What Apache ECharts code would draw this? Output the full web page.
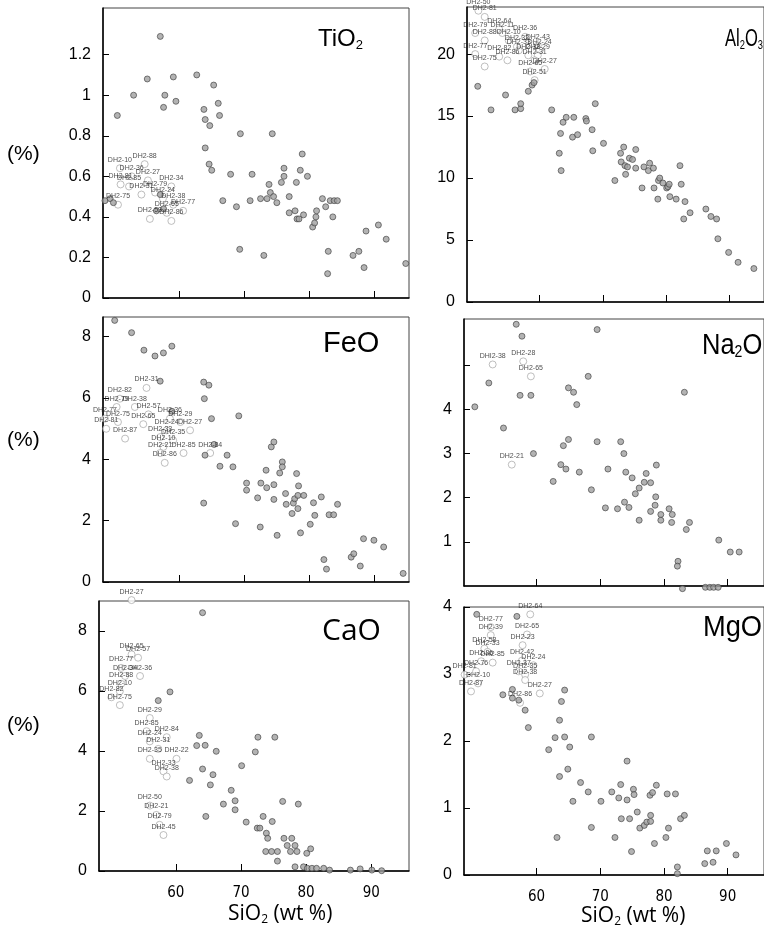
<!DOCTYPE html>
<html>
<head>
<meta charset="utf-8">
<script src="https://cdn.jsdelivr.net/npm/echarts@6/dist/echarts.min.js"></script>
<style>
  html, body { margin: 0; padding: 0; background: #fff; }
  #chart { width: 764px; height: 937px; }
</style>
</head>
<body>
<div id="chart"></div>
<script>
// SiO2 (wt %) on x, oxide (%) on y. filled = plain samples, labeled = named DH2 samples
var xTicks = [60, 70, 80, 90];

var tiTicks = [0, 0.2, 0.4, 0.6, 0.8, 1, 1.2];
var tiFilled = [[57.1,1.29],[50.5,0.90],[53.0,1.00],[55.1,1.08],[59.1,1.09],[57.8,1.00],[57.6,0.94],[59.5,0.97],[62.7,1.10],[65.3,1.05],[63.8,0.93],[64.0,0.88],[64.7,0.85],[66.0,0.96],[66.2,0.90],[64.0,0.74],[64.6,0.66],[65.0,0.63],[69.4,0.81],[67.9,0.61],[66.7,0.48],[68.8,0.45],[69.3,0.24],[71.2,0.61],[70.9,0.48],[73.0,0.21],[74.3,0.81],[72.5,0.49],[73.5,0.49],[73.8,0.56],[74.0,0.52],[74.5,0.50],[75.0,0.47],[75.7,0.57],[76.1,0.64],[76.1,0.60],[76.9,0.50],[76.9,0.42],[77.8,0.43],[78.0,0.57],[78.1,0.39],[78.4,0.39],[78.6,0.63],[78.9,0.71],[79.1,0.41],[79.7,0.60],[80.5,0.35],[80.8,0.37],[81.0,0.40],[81.1,0.43],[82.0,0.49],[82.5,0.45],[82.9,0.23],[82.8,0.12],[83.2,0.48],[83.8,0.48],[84.3,0.48],[83.6,0.40],[86.7,0.21],[87.6,0.23],[88.4,0.15],[88.7,0.33],[90.6,0.36],[91.8,0.29],[94.8,0.17],[48.6,0.48],[49.4,0.49],[49.9,0.47],[57.1,0.51],[56.5,0.43],[57.6,0.44]];
var tiLabeled = [[50.9,0.64,'DH2-10'],[54.7,0.66,'DH2-88'],[51.0,0.56,'DH2-81'],[52.7,0.60,'DH2-36'],[55.2,0.58,'DH2-27'],[52.3,0.55,'DH2-85'],[54.2,0.51,'DH2-31'],[56.3,0.52,'DH2-79'],[58.8,0.55,'DH2-34'],[57.5,0.49,'DH2-24'],[59.1,0.46,'DH2-38'],[60.6,0.43,'DH2-77'],[50.6,0.46,'DH2-75'],[58.1,0.42,'DH2-65'],[55.5,0.39,'DH2-53'],[58.8,0.38,'DH2-86']];

var alTicks = [0, 5, 10, 15, 20];
var alFilled = [[50.2,17.4],[52.3,15.5],[54.6,16.7],[56.1,15.5],[57.0,15.6],[57.0,16.0],[58.2,17.0],[58.8,17.5],[59.1,17.7],[61.9,15.5],[63.1,12.0],[63.3,13.6],[63.4,10.6],[63.7,14.5],[64.2,14.9],[65.4,14.9],[65.2,13.3],[66.0,13.5],[67.3,14.8],[67.4,14.6],[68.3,13.9],[68.4,12.2],[68.8,16.0],[70.1,12.8],[71.9,9.8],[72.8,12.0],[72.9,11.3],[73.3,12.5],[73.5,11.0],[73.6,10.3],[73.9,10.9],[74.2,11.6],[74.7,11.5],[75.2,12.3],[75.2,10.8],[76.2,9.2],[76.5,10.9],[77.2,10.6],[77.4,11.2],[78.0,10.8],[78.1,9.2],[78.7,8.3],[78.8,9.8],[79.0,10.0],[79.5,9.6],[80.1,9.2],[80.3,9.3],[80.5,9.5],[80.6,8.5],[81.6,8.3],[82.2,11.0],[82.4,9.5],[83.0,8.1],[82.8,6.7],[83.8,7.2],[86.3,7.5],[87.1,6.9],[88.0,6.7],[88.2,5.1],[89.9,4.0],[91.4,3.2],[93.9,2.7]];
var alLabeled = [[50.3,23.5,'DH2-50'],[51.3,23.0,'DH2-81'],[49.8,21.7,'DH2-79'],[51.3,21.1,'DH2-88'],[49.8,20.0,'DH2-77'],[51.3,19.0,'DH2-75'],[53.6,22.0,'DH2-64'],[54.1,21.7,'DH2-11'],[57.7,21.4,'DH2-36'],[55.1,21.1,'DH2-10'],[56.4,20.6,'DH2-32'],[56.7,20.3,'DH2-33'],[59.7,20.7,'DH2-43'],[60.0,20.3,'DH2-24'],[59.7,19.9,'DH2-29'],[53.6,19.8,'DH2-82'],[54.9,19.5,'DH2-86'],[58.2,19.9,'DH2-38'],[59.2,19.5,'DH2-31'],[58.5,18.6,'DH2-65'],[60.8,18.8,'DH2-27'],[59.2,17.9,'DH2-51']];

var feTicks = [0, 2, 4, 6, 8];
var feFilled = [[50.1,8.52],[52.7,8.12],[54.6,7.55],[56.3,7.36],[57.6,7.46],[58.9,7.68],[57.1,6.54],[63.8,6.51],[64.6,6.41],[63.9,5.97],[65.0,5.32],[58.9,5.56],[69.2,5.41],[65.4,4.48],[66.3,3.77],[67.4,4.13],[68.3,3.75],[68.7,1.90],[63.8,2.57],[64.0,4.13],[70.4,3.22],[70.4,2.99],[72.1,2.74],[72.5,1.79],[72.6,3.22],[73.4,3.64],[73.5,3.07],[74.2,4.40],[74.6,4.56],[74.6,3.17],[74.6,2.69],[75.1,1.52],[75.5,3.55],[75.9,3.91],[75.9,3.75],[76.4,2.88],[76.5,2.53],[77.4,2.23],[77.6,2.57],[77.8,2.71],[78.1,3.53],[78.3,2.82],[78.3,2.39],[78.4,3.13],[78.7,1.60],[79.2,2.82],[80.2,1.88],[80.7,2.58],[80.9,2.17],[81.9,2.77],[82.3,0.73],[82.7,0.42],[83.1,2.19],[83.8,2.19],[84.4,2.53],[86.5,0.81],[86.9,0.92],[87.9,0.52],[88.4,1.41],[90.0,1.36],[91.5,1.14],[94.5,0.28]];
var feLabeled = [[50.9,5.97,'DH2-82'],[55.0,6.32,'DH2-31'],[50.4,5.70,'DH2-79'],[53.2,5.70,'DH2-38'],[55.3,5.46,'DH2-57'],[48.6,5.32,'DH2-77'],[50.6,5.21,'DH2-75'],[48.8,4.99,'DH2-81'],[54.5,5.14,'DH2-65'],[58.6,5.32,'DH2-36'],[60.2,5.21,'DH2-29'],[61.7,4.94,'DH2-27'],[58.1,4.94,'DH2-24'],[51.7,4.67,'DH2-87'],[57.1,4.72,'DH2-33'],[59.1,4.61,'DH2-35'],[57.6,4.40,'DH2-10'],[57.1,4.20,'DH2-21'],[60.7,4.20,'DH2-85'],[64.8,4.20,'DH2-84'],[57.8,3.88,'DH2-86']];

var naTicks = [1, 2, 3, 4, 5];
var naTickLabels = [1, 2, 3, 4];
var naFilled = [[50.3,4.06],[52.5,4.60],[54.8,3.58],[56.8,5.93],[57.7,5.66],[57.4,4.32],[59.1,4.32],[59.5,3.00],[62.6,2.37],[63.8,2.75],[64.2,3.18],[64.6,2.65],[65.0,3.32],[65.0,4.49],[65.8,4.39],[66.3,4.11],[66.7,2.58],[68.1,4.75],[68.6,2.18],[69.5,5.81],[69.5,3.27],[70.8,1.77],[71.2,2.65],[72.7,1.75],[73.2,3.27],[73.7,3.00],[73.8,1.90],[74.0,2.58],[74.5,1.78],[75.0,2.45],[75.5,2.09],[76.1,2.22],[76.1,1.49],[76.9,2.35],[77.2,2.55],[77.9,2.34],[77.9,1.69],[78.6,1.83],[78.7,2.02],[78.8,2.74],[79.5,1.62],[79.5,1.49],[80.8,1.75],[81.3,1.62],[81.2,1.44],[82.2,0.56],[82.1,0.45],[83.2,4.39],[83.5,1.28],[84.0,1.44],[88.6,1.04],[90.4,0.77],[91.8,0.77],[82.9,-0.06],[86.5,-0.03],[87.2,-0.03],[87.8,-0.03],[88.5,-0.03]];
var naLabeled = [[53.1,5.02,'DHI2-38'],[57.9,5.09,'DH2-28'],[59.1,4.75,'DH2-65'],[56.1,2.75,'DH2-21']];

var caTicks = [0, 2, 4, 6, 8];
var caFilled = [[64.1,8.61],[59.1,5.97],[57.3,5.68],[63.6,4.52],[63.2,4.18],[64.5,4.19],[66.2,3.99],[64.1,3.40],[65.7,3.21],[65.3,2.87],[62.1,3.02],[64.6,1.82],[67.3,2.23],[68.5,2.69],[69.1,2.34],[69.1,2.04],[70.1,3.51],[70.8,1.63],[72.2,3.97],[72.6,4.46],[75.2,4.46],[73.4,1.82],[74.8,1.65],[72.5,1.43],[72.9,1.43],[73.9,1.26],[74.1,1.09],[76.4,2.32],[78.8,2.23],[76.6,1.09],[77.8,1.09],[77.1,0.85],[78.3,0.85],[77.6,0.65],[78.6,0.65],[80.1,0.59],[80.7,0.74],[73.8,0.65],[74.7,0.65],[75.6,0.65],[75.6,0.33],[78.3,0.14],[79.6,0.14],[80.2,0.09],[80.9,0.09],[81.6,0.09],[82.7,0.09],[83.6,0.03],[86.8,0.03],[88.3,0.07],[90.1,0.03],[91.6,0.01]];
var caLabeled = [[53.2,9.03,'DH2-27'],[53.2,7.22,'DH2-65'],[54.2,7.11,'DH2-57'],[51.6,6.77,'DH2-77'],[52.2,6.50,'DH2-34'],[54.5,6.50,'DH2-36'],[51.6,6.24,'DH2-88'],[51.4,5.99,'DH2-10'],[50.1,5.79,'DH2-82'],[51.4,5.53,'DH2-75'],[56.0,5.10,'DH2-29'],[55.5,4.66,'DH2-85'],[58.6,4.46,'DH2-84'],[56.0,4.32,'DH2-24'],[57.3,4.07,'DH2-31'],[56.0,3.74,'DH2-35'],[60.1,3.74,'DH2-22'],[58.1,3.32,'DH2-33'],[58.6,3.15,'DH2-38'],[56.0,2.18,'DH2-50'],[57.0,1.87,'DH2-21'],[57.5,1.54,'DH2-79'],[58.1,1.20,'DH2-45']];

var mgTicks = [0, 1, 2, 3, 4];
var mgFilled = [[50.6,3.89],[56.9,3.86],[54.7,2.69],[56.2,2.77],[56.2,2.64],[57.2,2.61],[58.2,2.46],[58.7,2.20],[61.9,1.87],[62.9,2.05],[64.4,2.06],[63.6,2.31],[63.9,2.59],[64.4,2.76],[65.2,1.91],[64.9,1.58],[63.6,1.47],[65.7,1.10],[63.2,0.56],[66.9,1.38],[68.1,1.24],[68.6,2.06],[68.6,0.71],[70.1,1.10],[71.8,1.24],[72.3,0.56],[72.9,1.15],[73.2,1.35],[73.3,0.84],[74.2,1.70],[74.2,1.12],[74.6,0.84],[74.9,0.35],[75.2,1.28],[75.3,1.20],[75.8,0.94],[76.2,0.70],[76.9,0.74],[77.3,0.79],[77.8,1.19],[77.9,0.89],[77.9,0.80],[78.2,1.23],[78.5,0.47],[78.8,1.34],[80.3,0.56],[80.5,1.21],[80.7,0.70],[81.8,1.21],[82.1,0.12],[82.1,0.02],[82.6,0.84],[83.2,0.89],[86.4,0.17],[87.7,0.19],[86.8,0.36],[88.2,0.36],[89.8,0.47],[91.3,0.30]];
var mgLabeled = [[59.0,3.89,'DH2-64'],[52.8,3.70,'DH2-77'],[52.8,3.58,'DH2-39'],[58.5,3.59,'DH2-65'],[51.8,3.38,'DH2-58'],[52.3,3.33,'DH2-33'],[57.8,3.43,'DH2-23'],[51.3,3.19,'DH2-36'],[53.1,3.17,'DH2-85'],[50.5,3.04,'DH2-76'],[57.7,3.20,'DH2-42'],[57.2,3.04,'DH2-37'],[59.5,3.13,'DH2-24'],[58.2,2.99,'DH2-35'],[58.2,2.91,'DH2-38'],[50.8,2.86,'DH2-10'],[48.7,2.99,'DH2-81'],[49.7,2.74,'DH2-87'],[60.5,2.71,'DH2-27'],[57.4,2.57,'DH2-86']];

// one entry per panel: grid box in px, axis ranges
var panels = [
  { left: 103, top: 8,   width: 306, height: 290, xmin: 48.3, xmax: 95.3, ymax: 1.43, ticks: tiTicks, labels: tiTicks, filled: tiFilled, named: tiLabeled, xlab: false },
  { left: 467, top: 7,   width: 306, height: 295, xmin: 48.5, xmax: 95.5, ymax: 23.8, ticks: alTicks, labels: alTicks, filled: alFilled, named: alLabeled, xlab: false },
  { left: 103, top: 317, width: 306, height: 265, xmin: 48.3, xmax: 95.4, ymax: 8.63, ticks: feTicks, labels: feTicks, filled: feFilled, named: feLabeled, xlab: false },
  { left: 464, top: 319, width: 306, height: 267, xmin: 48.6, xmax: 95.7, ymax: 6.05, ticks: naTicks, labels: naTickLabels, filled: naFilled, named: naLabeled, xlab: false },
  { left: 99,  top: 601, width: 310, height: 270, xmin: 48.2, xmax: 95.8, ymax: 9.0,  ticks: caTicks, labels: caTicks, filled: caFilled, named: caLabeled, xlab: true },
  { left: 464, top: 607, width: 306, height: 268, xmin: 48.6, xmax: 95.7, ymax: 4.0,  ticks: mgTicks, labels: mgTicks, filled: mgFilled, named: mgLabeled, xlab: true }
];

var grids = [], xAxes = [], yAxes = [], series = [];
panels.forEach(function (p, i) {
  grids.push({ left: p.left, top: p.top, width: p.width, height: p.height,
    show: true, borderColor: '#444', borderWidth: 1, backgroundColor: 'transparent' });
  xAxes.push({
    type: 'value', gridIndex: i, min: p.xmin, max: p.xmax,
    axisLine: { lineStyle: { color: '#000', width: 1.5 } },
    axisTick: { inside: true, length: 7, customValues: xTicks, lineStyle: { color: '#000', width: 1 } },
    axisLabel: { show: p.xlab, customValues: xTicks, margin: 15, color: '#000', fontSize: 15,
      fontFamily: "'Liberation Sans Narrow', 'DejaVu Sans Condensed', 'Liberation Sans'" },
    splitLine: { show: false }
  });
  yAxes.push({
    type: 'value', gridIndex: i, min: 0, max: p.ymax,
    axisLine: { show: true, lineStyle: { color: '#000', width: 1.5 } },
    axisTick: { inside: true, length: 6, customValues: p.ticks, lineStyle: { color: '#000', width: 1 } },
    axisLabel: { customValues: p.labels, margin: 12, color: '#000', fontSize: 16, fontFamily: 'Liberation Sans' },
    splitLine: { show: false }
  });
  series.push({
    type: 'scatter', xAxisIndex: i, yAxisIndex: i, clip: false, silent: true,
    symbol: 'circle', symbolSize: 7,
    itemStyle: { color: '#fff', borderColor: '#9a9a9a', borderWidth: 0.8 },
    label: { show: true, formatter: '{b}', position: 'top', distance: 1, fontSize: 7, color: '#222',
      fontFamily: "'Liberation Sans Narrow', 'Liberation Sans'" },
    data: p.named.map(function (r) { return { value: [r[0], r[1]], name: r[2] }; })
  });
  series.push({
    type: 'scatter', xAxisIndex: i, yAxisIndex: i, clip: false, silent: true,
    symbol: 'circle', symbolSize: 6,
    itemStyle: { color: '#a0a0a0', borderColor: '#3a3a3a', borderWidth: 0.8 },
    data: p.filled
  });
});

function richStyle(size, f) {
  return {
    n: { fontSize: size, fontFamily: f, fontWeight: 'normal', color: '#000' },
    s: { fontSize: Math.round(size * 0.55), fontFamily: f, fontWeight: 'normal', color: '#000',
         verticalAlign: 'bottom', padding: [0, 0, -1, 0] }
  };
}

function oxide(left, top, size, text, family) {
  var f = family || 'Liberation Sans';
  return {
    left: left, top: top, padding: 0, text: text,
    textStyle: { fontWeight: 'normal', rich: richStyle(size, f) }
  };
}

// titles pressed against the clipped right edge get squeezed a little
function squeezed(x, y, size, sx, text) {
  return { type: 'text', x: x, y: y, scaleX: sx,
    style: { text: text, rich: richStyle(size, 'Liberation Sans') } };
}

var chart = echarts.init(document.getElementById('chart'), null, { renderer: 'canvas' });
chart.setOption({
  animation: false,
  backgroundColor: '#fff',
  title: [
    oxide(318, 27, 24, '{n|TiO}{s|2}'),
    oxide(323, 329, 29, '{n|FeO}'),
    oxide(322, 616, 30, '{n|CaO}', 'Open Sans'),
    oxide(228, 904, 21, '{n|SiO}{s|2}{n| (wt %)}', 'Open Sans'),
    oxide(581, 906, 21, '{n|SiO}{s|2}{n| (wt %)}', 'Open Sans')
  ],
  graphic: [
    squeezed(725, 28, 23, 0.72, '{n|Al}{s|2}{n|O}{s|3}'),
    squeezed(702, 331, 29, 0.88, '{n|Na}{s|2}{n|O}'),
    squeezed(703, 613, 29, 0.94, '{n|MgO}'),
    { type: 'text', left: 7, top: 144, style: { text: '(%)', font: '21px Liberation Sans', fill: '#000' } },
    { type: 'text', left: 7, top: 430, style: { text: '(%)', font: '21px Liberation Sans', fill: '#000' } },
    { type: 'text', left: 7, top: 715, style: { text: '(%)', font: '21px Liberation Sans', fill: '#000' } }
  ],
  grid: grids,
  xAxis: xAxes,
  yAxis: yAxes,
  series: series
});
</script>
</body>
</html>
